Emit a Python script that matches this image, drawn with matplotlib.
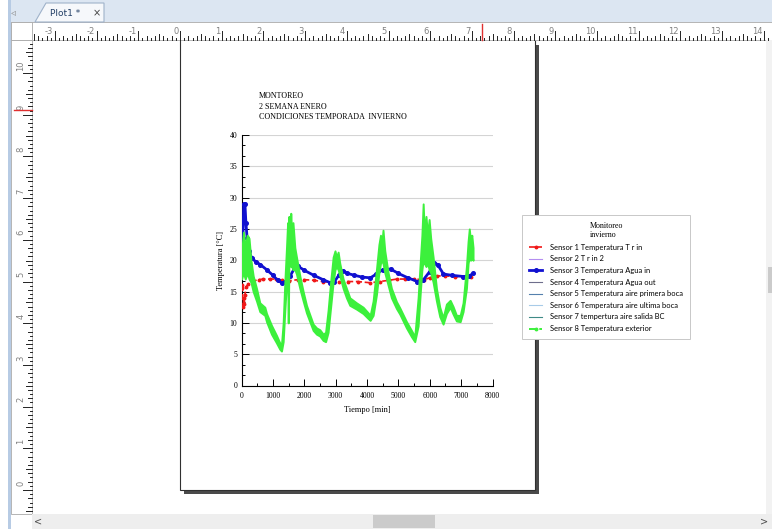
import matplotlib
matplotlib.use("Agg")
import matplotlib.pyplot as plt
from matplotlib.patches import Rectangle, Polygon
from matplotlib.lines import Line2D
from matplotlib.ticker import MultipleLocator

# Sensor 1: temperatura T r in
red_t = [0, 30, 50, 70, 90, 110, 150, 220, 380, 550, 700, 900, 1100, 1300, 1500, 1785, 2000, 2300,
         2600, 2836, 3100, 3400, 3700, 4111, 4400, 4700, 4960, 5200, 5500, 5820, 6000, 6246, 6500,
         6800, 7075, 7300]
red_v = [16.0, 15.6, 12.5, 14.0, 13.0, 14.5, 15.8, 16.2, 16.7, 16.9, 17.0, 17.0, 17.0, 16.8, 16.7,
         16.9, 16.9, 16.8, 16.6, 16.4, 16.5, 16.6, 16.6, 16.4, 16.6, 16.8, 17.0, 17.0, 17.0, 16.9,
         17.2, 17.5, 17.5, 17.4, 17.3, 17.4]

# Sensor 3: temperatura agua in
blue_t = [0, 40, 70, 110, 140, 180, 240, 330, 450, 600, 800, 1000, 1150, 1280, 1400, 1550, 1700,
          1785, 2000, 2300, 2600, 2836, 2950, 3100, 3250, 3378, 3600, 3850, 4111, 4300, 4500, 4750,
          5000, 5300, 5609, 5800, 6000, 6150, 6250, 6438, 6700, 7075, 7250, 7394]
blue_v = [18.0, 22.0, 29.0, 29.0, 26.0, 23.5, 21.5, 20.3, 19.8, 19.3, 18.5, 17.6, 16.8, 16.4, 16.6,
          17.5, 18.8, 19.1, 18.4, 17.6, 16.9, 16.4, 16.5, 17.6, 18.3, 17.9, 17.6, 17.3, 17.2, 17.8,
          18.5, 18.6, 17.9, 17.2, 16.6, 16.9, 18.2, 19.6, 19.3, 17.8, 17.6, 17.4, 17.5, 17.9]

# Sensor 8: temperatura exterior (banda min / max de la lectura)
green_t = [0, 60, 120, 180, 240, 300, 372, 478, 584, 743, 797, 956, 1115, 1220, 1274, 1328, 1381,
           1434, 1470, 1490, 1510, 1540, 1570, 1600, 1640, 1700, 1752, 1859, 1965, 2071, 2177, 2283,
           2390, 2496, 2602, 2680, 2760, 2840, 2921, 2980, 3027, 3080, 3133, 3239, 3345, 3452, 3664,
           3876, 4036, 4100, 4195, 4301, 4380, 4430, 4470, 4510, 4567, 4673, 4779, 4938, 5045, 5257,
           5416, 5522, 5629, 5700, 5750, 5790, 5830, 5880, 5930, 5980, 6030, 6107, 6213, 6319, 6425,
           6531, 6650, 6744, 6850, 6970, 7062, 7169, 7222, 7260, 7300, 7340, 7380]
green_lo = [17, 18, 17, 18, 17, 16.5, 15, 13.5, 11.8, 11.2, 10.2, 8.2, 6.8, 5.8, 5.5, 7, 12, 16.5,
            18, 10, 19, 19.5, 19, 19, 18.5, 18.5, 17.8, 15.5, 13.5, 11.6, 10.2, 8.8, 8.2, 7.9, 7.2,
            7, 8.5, 12.5, 16.5, 18.5, 19, 18.5, 17.5, 15.5, 14, 12.8, 12.2, 11.5, 10.7, 10.4, 11.2,
            14.5, 18, 19.5, 20, 19.5, 18, 16, 14, 12.3, 11.4, 9.2, 7.8, 7, 9.5, 15, 18.5, 20, 19.5,
            19, 19.5, 18.5, 18, 16.5, 13.5, 11, 9.8, 11.5, 12.5, 11.4, 10.3, 10.2, 11.8, 15.5, 19.5,
            20.5, 20, 20.5, 20]
green_hi = [21, 24.5, 22, 24, 23.5, 20, 17.5, 15.5, 13.2, 12.5, 11.5, 9.6, 8, 6.8, 6.5, 10, 16.5, 22,
            26, 23, 27, 23, 27.5, 24, 26, 22, 20.5, 17.5, 15, 12.8, 11.3, 9.8, 9.2, 8.9, 8.2, 8.5,
            12, 16.5, 20.5, 21.5, 20.5, 21.3, 19.5, 17, 15.5, 14, 13.2, 12.5, 11.6, 11.2, 13.5, 18.5,
            22.5, 24, 22.5, 24.8, 21.5, 18, 15.5, 13.4, 12.4, 10.2, 8.8, 7.8, 14, 20, 24, 29, 24, 27,
            24, 26.5, 23.5, 20.5, 15.5, 12.5, 10.8, 13, 13.6, 12.6, 11.2, 11.2, 13.2, 19, 23, 25, 23,
            24, 22]

sensores = ["Sensor 1 Temperatura T r in", "Sensor 2 T r in 2", "Sensor 3 Temperatura Agua in",
            "Sensor 4 Temperatura Agua out", "Sensor 5 Temperatura aire primera boca",
            "Sensor 6 Temperatura aire ultima boca", "Sensor 7 tempertura aire salida BC",
            "Sensor 8 Temperatura exterior"]
titulo = "MONTOREO\n2 SEMANA ENERO\nCONDICIONES TEMPORADA  INVIERNO"

RED, BLUE, GREEN = "#f01818", "#1010d0", "#3cf03c"

plt.rcParams["font.family"] = ["Liberation Serif", "DejaVu Serif"]

W, H = 772, 529
fig = plt.figure(figsize=(W / 100, H / 100), dpi=100)


def fx(x):
    return x / W


def fy(y):
    return 1 - y / H


def caja(x0, y0, x1, y1, **kw):
    r = Rectangle((fx(x0), fy(y1)), (x1 - x0) / W, (y1 - y0) / H, transform=fig.transFigure, **kw)
    fig.add_artist(r)


def raya(x0, y0, x1, y1, **kw):
    fig.add_artist(Line2D([fx(x0), fx(x1)], [fy(y0), fy(y1)], transform=fig.transFigure, **kw))


# hoja de la grafica con su sombra
caja(184, 45, 539, 494, fc="#4a4a4a", lw=0, zorder=-3)
caja(180, 25, 535, 490, fc="white", ec="#303030", lw=0.8, zorder=-2)

# barra de pestañas
caja(0, 0, W, 22, fc="#dce6f2", lw=0, zorder=3)
fig.add_artist(Polygon([(fx(35), fy(22)), (fx(46), fy(3)), (fx(104), fy(3)), (fx(104), fy(22))],
                       closed=True, transform=fig.transFigure, fc="#f6f8fb", ec="#9fb2ca", lw=0.8,
                       zorder=4))
fig.text(fx(50), fy(13), "Plot1 *", fontsize=6.5, color="#233f66", family="DejaVu Sans",
         va="center", zorder=5)
fig.text(fx(93), fy(13), "×", fontsize=7, color="#404040", family="DejaVu Sans", va="center",
         zorder=5)
fig.text(fx(11), fy(12), "◃", fontsize=7, color="#909090", family="DejaVu Sans", va="center",
         zorder=5)
caja(0, 0, 8, H, fc="white", lw=0, zorder=3)
caja(8, 0, 11, H, fc="#b7cbe4", lw=0, zorder=3)

# reglas
UNIDAD = 41.7
caja(11, 22, W, 40, fc="white", ec="#a8a8a8", lw=0.6, zorder=3)
caja(11, 40, 32, 514, fc="white", ec="#a8a8a8", lw=0.6, zorder=3)
caja(11, 22, 32, 40, fc="white", ec="#a8a8a8", lw=0.6, zorder=4)
for k in range(-40, 160):
    x = 180 + k * UNIDAD / 10
    if x < 34 or x > W:
        continue
    largo = 9 if k % 10 == 0 else 6 if k % 5 == 0 else 4 if k % 2 == 0 else 2
    raya(x, 40, x, 40 - largo, color="#222222", lw=0.7, zorder=5)
    if k % 10 == 0:
        fig.text(fx(x - 1.5), fy(31), str(k // 10), fontsize=6, color="#808080",
                 family="DejaVu Sans", ha="right", va="center", zorder=5)
for k in range(-20, 120):
    y = 490 - k * UNIDAD / 10
    if y < 42 or y > 512:
        continue
    largo = 9 if k % 10 == 0 else 6 if k % 5 == 0 else 4 if k % 2 == 0 else 2
    raya(32, y, 32 - largo, y, color="#222222", lw=0.7, zorder=5)
    if k % 10 == 0:
        fig.text(fx(21), fy(y - 7), str(k // 10), fontsize=6, color="#808080",
                 family="DejaVu Sans", rotation=90, ha="center", va="center", zorder=5)
raya(481.5, 24, 481.5, 40, color="#e03030", lw=1, zorder=6)
raya(14, 110, 32, 110, color="#e03030", lw=1, zorder=6)

# barras de desplazamiento
caja(32, 514, W, H, fc="#eeeeee", lw=0, zorder=3)
caja(373, 515, 435, 528, fc="#cbcbcb", lw=0, zorder=4)
fig.text(fx(38), fy(521), "<", fontsize=7, color="#505050", family="DejaVu Sans",
         ha="center", va="center", zorder=5)
fig.text(fx(764), fy(521), ">", fontsize=7, color="#505050", family="DejaVu Sans",
         ha="center", va="center", zorder=5)
caja(766, 40, W, 514, fc="#f2f2f2", lw=0, zorder=3)
caja(768, 267, W, 293, fc="#cbcbcb", lw=0, zorder=4)

# grafica
ax = fig.add_axes([fx(241.5), fy(385.5), 251 / W, 250.5 / H])
ax.patch.set_alpha(0)
ax.set_xlim(0, 8000)
ax.set_ylim(0, 40)
for lado in ["top", "right"]:
    ax.spines[lado].set_visible(False)
for lado in ["left", "bottom"]:
    ax.spines[lado].set_linewidth(0.8)
ax.xaxis.set_major_locator(MultipleLocator(1000))
ax.xaxis.set_minor_locator(MultipleLocator(500))
ax.yaxis.set_major_locator(MultipleLocator(5))
ax.yaxis.set_minor_locator(MultipleLocator(5 / 3))
ax.tick_params(which="both", direction="in", labelsize=5.6, width=0.7, pad=3)
ax.tick_params(axis="x", pad=5)
ax.tick_params(which="major", length=5)
ax.tick_params(which="minor", length=2.5)
ax.yaxis.grid(True, color="#d4d4d4", lw=0.8)
ax.set_axisbelow(True)

ax.plot(red_t, red_v, color=RED, ls="--", lw=1.2, marker="o", ms=1.8, zorder=3)
ax.plot(blue_t, blue_v, color=BLUE, lw=2.0, marker="o", ms=2.6, zorder=4)
ax.fill_between(green_t, green_lo, green_hi, color=GREEN, lw=1.4, zorder=5)

ax.set_xlabel("Tiempo [min]", fontsize=6, labelpad=4)
ax.set_ylabel("Temperatura [°C]", fontsize=6, labelpad=3)
fig.text(fx(259), fy(92), titulo, fontsize=5.8, va="top", linespacing=1.45)

# leyenda
estilos = [dict(color=RED, ls="--", lw=1.2, marker="o", ms=1.8),
           dict(color="#b48ef0", lw=0.8),
           dict(color=BLUE, lw=2.0, marker="o", ms=2.6),
           dict(color="#6e6e8c", lw=0.8),
           dict(color="#5580ad", lw=0.8),
           dict(color="#a8cbe8", lw=0.8),
           dict(color="#3f8a86", lw=0.8),
           dict(color=GREEN, ls="--", lw=1.4, marker="o", ms=1.8)]
manejadores = [Line2D([], [], **e) for e in estilos]
ley = ax.legend(manejadores, sensores, loc="upper left", bbox_to_anchor=(fx(522), fy(215)),
                bbox_transform=fig.transFigure, borderaxespad=0, frameon=True, fancybox=False,
                edgecolor="#c8c8c8", framealpha=1, prop={"family": "Lato", "size": 5.4},
                title="Monitoreo\ninvierno", title_fontproperties={"family": "Liberation Serif",
                                                                   "size": 5.8},
                handlelength=1.8, handletextpad=1.1, labelspacing=0.62, borderpad=0.9)
ley.get_frame().set_linewidth(0.7)

fig.savefig("out.png", dpi=100)
